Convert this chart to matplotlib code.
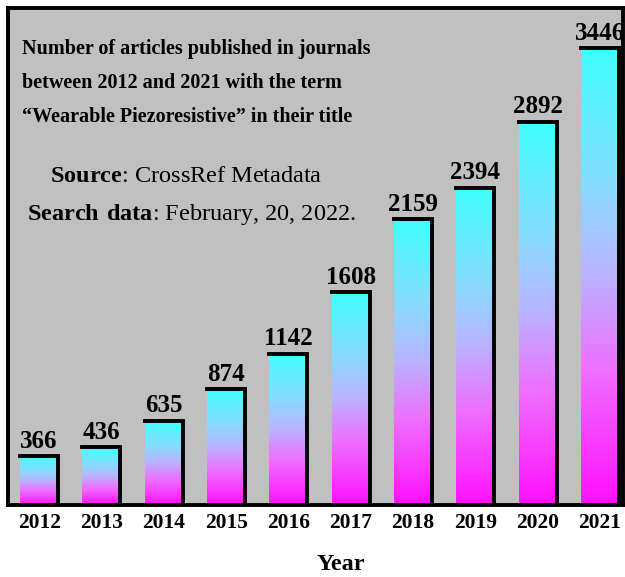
import numpy as np
import matplotlib
matplotlib.use("Agg")
import matplotlib.pyplot as plt
from matplotlib.colors import LinearSegmentedColormap

years = ["2012", "2013", "2014", "2015", "2016", "2017", "2018", "2019", "2020", "2021"]
counts = [366, 436, 635, 874, 1142, 1608, 2159, 2394, 2892, 3446]

title_lines = [
    "Number of articles published in journals",
    "between 2012 and 2021 with the term",
    "\u201cWearable Piezoresistive\u201d in their title",
]

plt.rcParams["font.family"] = ["Liberation Serif", "DejaVu Serif"]
plt.rcParams["mathtext.fontset"] = "custom"
plt.rcParams["mathtext.rm"] = "Liberation Serif"
plt.rcParams["mathtext.bf"] = "Liberation Serif:bold"

BG = "#c0c0c0"
# bottom (magenta) -> top (cyan)
cmap = LinearSegmentedColormap.from_list(
    "cm", [(0.0, "#ff10ff"), (0.3, "#ee70ff"), (0.5, "#bab2ff"),
           (0.7, "#88dcff"), (1.0, "#40ffff")])

fig = plt.figure(figsize=(6.25, 5.77), dpi=100)
ax = fig.add_axes([0.0128, 0.125, 0.984, 0.861])
ax.set_facecolor(BG)

x = np.arange(len(years))
width = 0.61
bars = ax.bar(x, counts, width=width, color="none", edgecolor="none")

grad = np.linspace(0, 1, 256).reshape(-1, 1)
for rect, val in zip(bars, counts):
    x0 = rect.get_x()
    x1 = x0 + rect.get_width()
    h = rect.get_height()
    ax.imshow(grad, cmap=cmap, origin="lower", aspect="auto",
              extent=(x0, x1, 0, h), zorder=2)
    # black edge on top and right side only
    ax.plot([x0, x1, x1], [h, h, 0], color="black", lw=2.8,
            solid_joinstyle="miter", zorder=3)
    ax.text(x0 + rect.get_width() / 2, h + 25, str(val), ha="center", va="bottom",
            fontsize=18, fontweight="bold", zorder=4)

ax.set_xlim(-0.5, 9.37)
ax.set_ylim(0, 3750)
ax.set_xticks(x)
ax.set_xticklabels(years, fontsize=15.5, fontweight="bold")
ax.tick_params(axis="x", length=0, pad=6)
ax.set_yticks([])
for s in ax.spines.values():
    s.set_linewidth(2.8)
    s.set_color("black")

ax.set_xlabel("Year", fontsize=17.5, fontweight="bold")
ax.xaxis.set_label_coords(0.541, -0.098)

for i, line in enumerate(title_lines):
    ax.text(0.023, 0.917 - i * 0.068, line, transform=ax.transAxes,
            fontsize=14.5, fontweight="bold", va="center", ha="left")

ax.text(0.068, 0.66, "$\\bf{Source}$: CrossRef Metadata", transform=ax.transAxes,
        fontsize=17.5, va="center", ha="left")
ax.text(0.031, 0.585, "$\\bf{Search\\ data}$: February, 20, 2022.", transform=ax.transAxes,
        fontsize=17.5, va="center", ha="left")

fig.savefig("out.png", dpi=100)
